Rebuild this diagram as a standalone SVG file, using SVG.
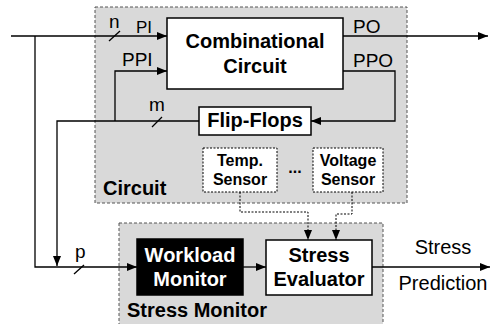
<svg xmlns="http://www.w3.org/2000/svg" width="492" height="324" viewBox="0 0 492 324">
<defs>
<style>
.cont{fill:#d9d9d9;stroke:#555;stroke-width:1;stroke-dasharray:3 2}
.box{fill:#fff;stroke:#000;stroke-width:1.5}
.sens{fill:#fff;stroke:#000;stroke-width:1;stroke-dasharray:2 1.5}
.blk{fill:#000;stroke:#000;stroke-width:1.5}
.ln{fill:none;stroke:#000;stroke-width:1.3}
.dl{fill:none;stroke:#000;stroke-width:1;stroke-dasharray:2 1.5}
.b{font-family:"Liberation Sans",Arial,sans-serif;font-weight:bold;font-size:20px;fill:#000;text-anchor:middle}
.bs{font-family:"Liberation Sans",Arial,sans-serif;font-weight:bold;font-size:16px;fill:#000;text-anchor:middle}
.w{fill:#fff}
.r{font-family:"Liberation Sans",Arial,sans-serif;font-size:19px;fill:#000}
</style>
<marker id="ah" viewBox="0 0 10 10" refX="10" refY="5" markerWidth="10" markerHeight="10" markerUnits="userSpaceOnUse" orient="auto">
<path d="M0,1 L10,5 L0,9 z" fill="#000"/>
</marker>
</defs>

<g id="circuit">
<rect class="cont" x="95" y="7" width="312" height="196"/>
<text class="b" x="103" y="195" style="text-anchor:start">Circuit</text>
</g>

<g id="stress-monitor">
<rect class="cont" x="119" y="223" width="264" height="110"/>
<text class="b" x="127" y="317" style="text-anchor:start">Stress Monitor</text>
</g>

<g id="combinational-circuit">
<rect class="box" x="167" y="18" width="176" height="71"/>
<text class="b" x="255" y="48">Combinational</text>
<text class="b" x="255" y="73">Circuit</text>
</g>

<g id="flip-flops">
<rect class="box" x="199" y="107" width="112" height="28"/>
<text class="b" x="255" y="127">Flip-Flops</text>
</g>

<g id="temp-sensor">
<rect class="sens" x="203" y="148" width="74" height="44"/>
<text class="bs" x="240" y="166">Temp.</text>
<text class="bs" x="240" y="185">Sensor</text>
</g>

<g id="dots">
<text class="bs" x="295" y="173">...</text>
</g>

<g id="voltage-sensor">
<rect class="sens" x="313" y="148" width="70" height="44"/>
<text class="bs" x="348" y="166">Voltage</text>
<text class="bs" x="348" y="185">Sensor</text>
</g>

<g id="workload-monitor">
<rect class="blk" x="137" y="239" width="106" height="56"/>
<text class="b w" x="190" y="262">Workload</text>
<text class="b w" x="190" y="286">Monitor</text>
</g>

<g id="stress-evaluator">
<rect class="box" x="266" y="240" width="106" height="55"/>
<text class="b" x="319" y="262">Stress</text>
<text class="b" x="319" y="286">Evaluator</text>
</g>

<g id="connectors">
<path class="ln" d="M11,36 H167" marker-end="url(#ah)"/>
<path class="ln" d="M35,36 V267 H137" marker-end="url(#ah)"/>
<path class="ln" d="M115,121 V71 H167" marker-end="url(#ah)"/>
<path class="ln" d="M199,121 H57 V266" marker-end="url(#ah)"/>
<path class="ln" d="M343,36 H488" marker-end="url(#ah)"/>
<path class="ln" d="M343,71 H395 V121 H311" marker-end="url(#ah)"/>
<path class="ln" d="M243,267 H266" marker-end="url(#ah)"/>
<path class="ln" d="M372,267 H490" marker-end="url(#ah)"/>
<path class="dl" d="M240,192 V212 H308 V240" marker-end="url(#ah)"/>
<path class="dl" d="M352,192 V214 H336 V240" marker-end="url(#ah)"/>
<path class="ln" d="M109,41 L120,31"/>
<path class="ln" d="M152,127 L162,117"/>
<path class="ln" d="M74,274 L84,265"/>
<text class="r" x="109" y="28">n</text>
<text class="r" x="136" y="33" style="font-size:17px">PI</text>
<text class="r" x="122" y="66">PPI</text>
<text class="r" x="149" y="111">m</text>
<text class="r" x="75" y="258">p</text>
<text class="r" x="353" y="33">PO</text>
<text class="r" x="353" y="67">PPO</text>
<text class="r" x="443" y="254" style="text-anchor:middle;font-size:20px">Stress</text>
<text class="r" x="443" y="290" style="text-anchor:middle;font-size:20px">Prediction</text>
</g>
</svg>
